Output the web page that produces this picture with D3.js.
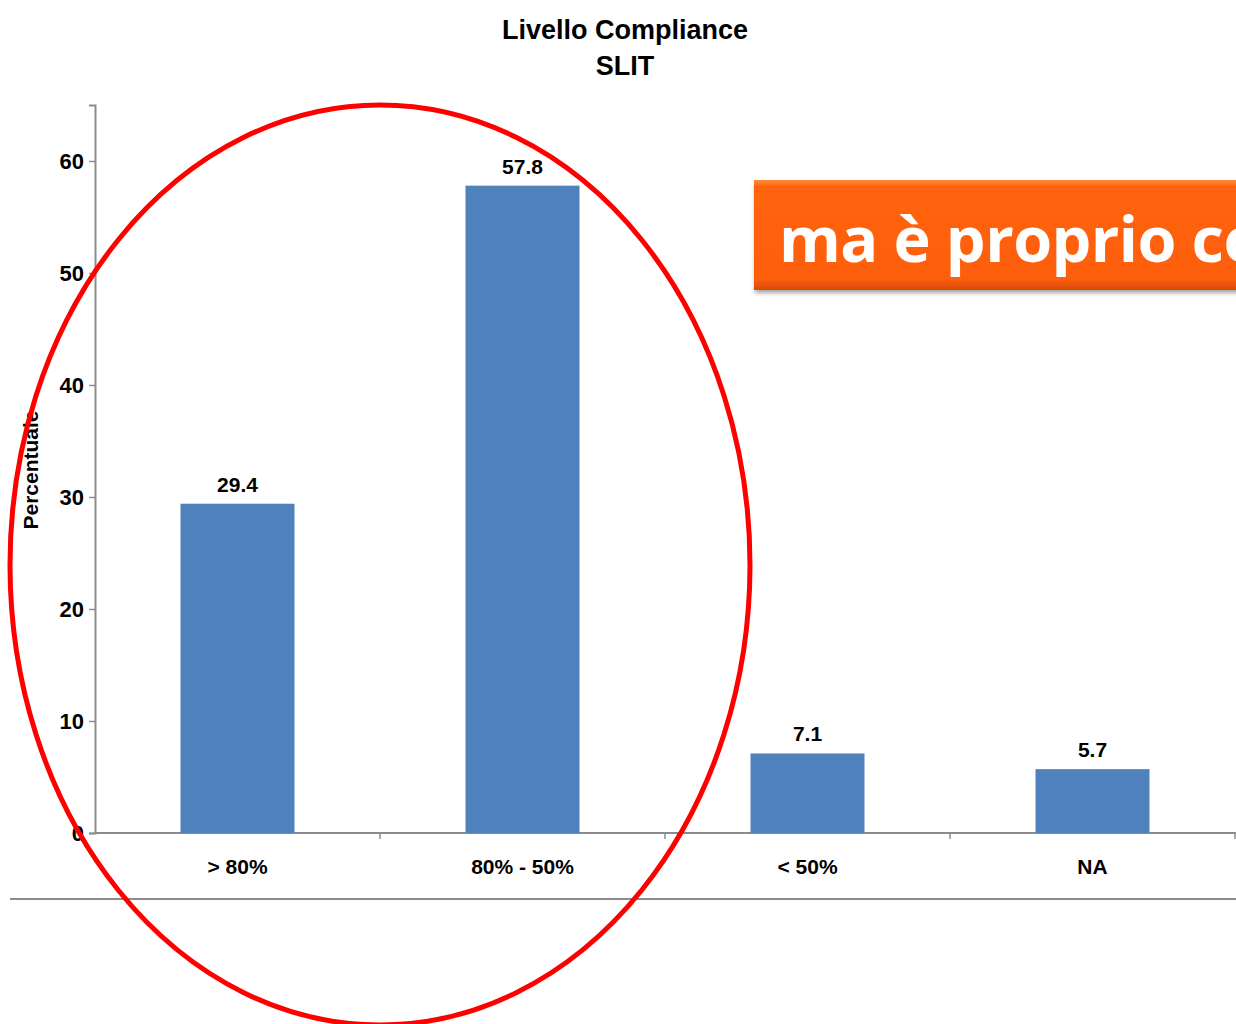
<!DOCTYPE html>
<html>
<head>
<meta charset="utf-8">
<script src="https://cdn.jsdelivr.net/npm/d3@7"></script>
<style>
  body { margin: 0; background: #fff; }
  svg { display: block; }
</style>
</head>
<body>
<div id="graph"></div>
<script>
// dati del grafico
var categorie = ['> 80%', '80% - 50%', '< 50%', 'NA'];
var valori = [29.4, 57.8, 7.1, 5.7];
var tickY = [0, 10, 20, 30, 40, 50, 60];
var titolo = ['Livello Compliance', 'SLIT'];
var etichettaY = 'Percentuale';
var testoBox = 'ma è proprio co';

var width = 1236, height = 1024;
var svg = d3.select('#graph').append('svg')
    .attr('width', width)
    .attr('height', height);

// banda per le categorie
var xCat = d3.scaleBand().domain(categorie).range([95, 1235]);

var y = d3.scaleLinear()
    .domain([0, 65])
    .range([833, 105]);

var fontChart = 'Liberation Sans, Arial, sans-serif';

// titolo
svg.append('text')
    .attr('x', 625).attr('y', 39)
    .attr('text-anchor', 'middle')
    .style('font-family', fontChart)
    .style('font-weight', 'bold')
    .style('font-size', '27px')
    .selectAll('tspan')
    .data(titolo).enter()
    .append('tspan')
    .attr('x', 625)
    .attr('dy', function (d, i) { return i === 0 ? 0 : 36; })
    .text(function (d) { return d; });

// asse y
var asseY = svg.append('g')
    .attr('transform', 'translate(95,0)')
    .call(d3.axisLeft(y).tickValues(tickY).tickSize(6).tickPadding(5));
asseY.select('.domain').attr('stroke', '#8c8c8c').attr('stroke-width', 2);
asseY.selectAll('.tick line').attr('stroke', '#8c8c8c').attr('stroke-width', 1.5);
asseY.selectAll('.tick text')
    .style('font-family', fontChart)
    .style('font-weight', 'bold')
    .style('font-size', '22px')
    .attr('fill', '#000');

// asse x
svg.append('line')
    .attr('x1', 95).attr('x2', 1236)
    .attr('y1', y(0)).attr('y2', y(0))
    .attr('stroke', '#8c8c8c').attr('stroke-width', 2);

svg.selectAll('.xtick')
    .data(categorie).enter()
    .append('line')
    .attr('class', 'xtick')
    .attr('x1', function (d) { return xCat(d) + xCat.bandwidth(); })
    .attr('x2', function (d) { return xCat(d) + xCat.bandwidth(); })
    .attr('y1', y(0)).attr('y2', y(0) + 6)
    .attr('stroke', '#8c8c8c').attr('stroke-width', 1.5);

svg.selectAll('.xlabel')
    .data(categorie).enter()
    .append('text')
    .attr('class', 'xlabel')
    .attr('x', function (d) { return xCat(d) + xCat.bandwidth() / 2; })
    .attr('y', 874)
    .attr('text-anchor', 'middle')
    .style('font-family', fontChart)
    .style('font-weight', 'bold')
    .style('font-size', '21px')
    .text(function (d) { return d; });

// barre
svg.selectAll('.bar')
    .data(valori).enter()
    .append('rect')
    .attr('class', 'bar')
    .attr('x', function (d, i) { return xCat(categorie[i]) + xCat.bandwidth() / 2 - 57; })
    .attr('width', 114)
    .attr('y', function (d) { return y(d); })
    .attr('height', function (d) { return y(0) - y(d); })
    .attr('fill', '#4f81bd');

svg.selectAll('.val')
    .data(valori).enter()
    .append('text')
    .attr('class', 'val')
    .attr('x', function (d, i) { return xCat(categorie[i]) + xCat.bandwidth() / 2; })
    .attr('y', function (d) { return y(d) - 12; })
    .attr('text-anchor', 'middle')
    .style('font-family', fontChart)
    .style('font-weight', 'bold')
    .style('font-size', '21px')
    .text(function (d) { return d.toFixed(1); });

// etichetta asse y
svg.append('text')
    .attr('transform', 'translate(38,470) rotate(-90)')
    .attr('text-anchor', 'middle')
    .style('font-family', fontChart)
    .style('font-weight', 'bold')
    .style('font-size', '21px')
    .text(etichettaY);

// linea orizzontale in basso
svg.append('line')
    .attr('x1', 10).attr('x2', 1236)
    .attr('y1', 899).attr('y2', 899)
    .attr('stroke', '#8c8c8c').attr('stroke-width', 2);

// box arancione
var defs = svg.append('defs');
var grad = defs.append('linearGradient')
    .attr('id', 'arancio')
    .attr('x1', 0).attr('y1', 0).attr('x2', 0).attr('y2', 1);
grad.append('stop').attr('offset', '0%').attr('stop-color', '#ff8a3c');
grad.append('stop').attr('offset', '6%').attr('stop-color', '#ff6410');
grad.append('stop').attr('offset', '90%').attr('stop-color', '#fd5e0c');
grad.append('stop').attr('offset', '100%').attr('stop-color', '#d84a05');
var ombra = defs.append('filter').attr('id', 'ombra')
    .attr('x', '-5%').attr('y', '-10%').attr('width', '110%').attr('height', '130%');
ombra.append('feDropShadow')
    .attr('dx', 1).attr('dy', 3).attr('stdDeviation', 2)
    .attr('flood-color', '#000').attr('flood-opacity', 0.35);

svg.append('rect')
    .attr('x', 754).attr('y', 180)
    .attr('width', 500).attr('height', 110)
    .attr('fill', 'url(#arancio)')
    .attr('filter', 'url(#ombra)');

svg.append('text')
    .attr('x', 779).attr('y', 262)
    .style('font-family', 'Open Sans, Noto Sans, sans-serif')
    .style('font-weight', 'bold')
    .style('font-size', '63px')
    .style('letter-spacing', '-0.6px')
    .attr('fill', '#fff')
    .text(testoBox);

// ellisse rossa
svg.append('ellipse')
    .attr('cx', 380).attr('cy', 565)
    .attr('rx', 370).attr('ry', 460)
    .attr('fill', 'none')
    .attr('stroke', '#ff0000')
    .attr('stroke-width', 5);
</script>
</body>
</html>
